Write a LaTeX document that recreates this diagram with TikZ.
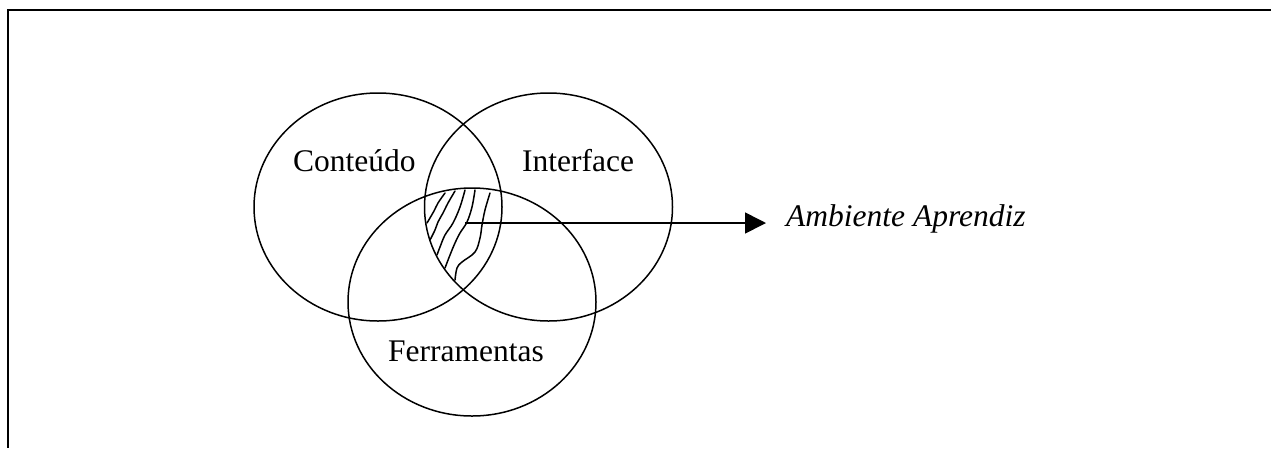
\documentclass[tikz,border=0pt]{standalone}
\usepackage{fontspec}
\setmainfont{Liberation Serif}
\usetikzlibrary{shapes.geometric,arrows.meta}
\tikzset{
  setring/.style={draw, ellipse, line width=1.5pt, minimum width=248pt, minimum height=228pt, inner sep=0pt},
  setlabel/.style={anchor=base west, inner sep=0pt, font=\fontsize{31.5}{38}\selectfont},
  hatchline/.style={line width=1.5pt, line cap=round, smooth, tension=0.6},
  framerule/.style={line width=2pt}
}
\begin{document}
\begin{tikzpicture}[x=1pt,y=-1pt]
\useasboundingbox (0,0) rectangle (1271,448);
% frame (top and left only)
\coordinate (ftr) at (1271,10);
\coordinate (ftl) at (8,10);
\coordinate (fbl) at (8,448);
\draw[framerule] (ftr) -- (ftl) -- (fbl);
% sets
\node[setring] (cont) at (378,207) {};
\node[setring] (intf) at (548.5,207) {};
\node[setring] (ferr) at (472,302) {};
% labels
\node[setlabel] (tcont) at (293,171) {Conteúdo};
\node[setlabel] (tintf) at (522,171) {Interface};
\node[setlabel] (tferr) at (388,361) {Ferramentas};
\node[setlabel, font=\fontsize{31.5}{38}\selectfont\itshape] (amb) at (786,226) {Ambiente Aprendiz};
% hatching of the common region
\draw[hatchline] plot coordinates {(445,193) (438,203) (434,211) (427,223)};
\draw[hatchline] plot coordinates {(455,191) (448,203) (443,213) (438,222) (435,230) (430,240)};
\draw[hatchline] plot coordinates {(465,190) (460,207) (453,223) (445,235) (440,247) (437,255)};
\draw[hatchline] plot coordinates {(475,190) (472,207) (467,222) (460,233) (455,243) (450,255) (445,268)};
\draw[hatchline] plot coordinates {(490,193) (485,210) (482,225) (480,238) (475,252) (462,262) (457,268) (455,280)};
% arrow
\coordinate (core) at (465,223);
\draw[line width=1.6pt, -{Triangle[length=21pt,width=21pt]}, shorten >=20pt] (core) -- (core -| amb.west);
\end{tikzpicture}
\end{document}
